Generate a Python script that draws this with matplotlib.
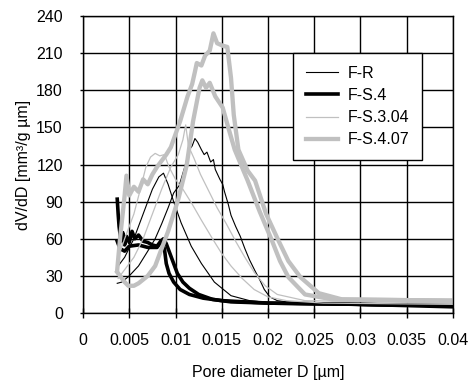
import matplotlib
matplotlib.use('Agg')
import matplotlib.pyplot as plt

plt.rcParams['font.family'] = ['Liberation Sans', 'DejaVu Sans']

# F-R, two runs
fr1_d = [0.0037, 0.0042, 0.005, 0.006, 0.007, 0.0078, 0.0085, 0.0092, 0.0098, 0.0104,
         0.011, 0.0115, 0.0118, 0.0121, 0.0124, 0.0128, 0.0131, 0.0134, 0.0138, 0.0141,
         0.0143, 0.0148, 0.0151, 0.0153, 0.0157, 0.016, 0.0165, 0.017, 0.0175, 0.018,
         0.0186, 0.0191, 0.0196, 0.0202, 0.021, 0.023, 0.03, 0.04]
fr1_v = [24, 25, 30, 38, 50, 60, 72, 85, 97, 103,
         118, 132, 135, 141, 138, 132, 128, 130, 122, 124,
         116, 108, 104, 98, 88, 79, 70, 62, 52, 43,
         34, 27, 19, 13, 10, 8, 6, 5]
fr2_d = [0.0037, 0.0045, 0.0055, 0.0065, 0.0075, 0.0082, 0.0087, 0.0092, 0.0098, 0.0106,
         0.0117, 0.0128, 0.0142, 0.016, 0.018, 0.022, 0.03, 0.04]
fr2_v = [37, 45, 60, 80, 100, 110, 113, 104, 90, 73,
         54, 40, 25, 14, 10, 7, 6, 5]

# F-S.4, two runs
fs4a_d = [0.0037, 0.0038, 0.0039, 0.0041, 0.0043, 0.0045, 0.0047, 0.005, 0.0053, 0.0056,
          0.006, 0.0065, 0.007, 0.0075, 0.008, 0.0084, 0.0087, 0.009, 0.0094, 0.0098,
          0.0102, 0.0108, 0.0115, 0.0125, 0.014, 0.016, 0.02, 0.03, 0.04]
fs4a_v = [92, 80, 70, 58, 65, 55, 62, 57, 66, 60,
          63, 58, 57, 55, 54, 58, 60, 56, 48, 40,
          32, 25, 20, 15, 11, 9, 8, 7, 6]
fs4b_d = [0.0037, 0.004, 0.0045, 0.005, 0.006, 0.007, 0.008, 0.0085, 0.0088, 0.009,
          0.0093, 0.0098, 0.0105, 0.0115, 0.013, 0.015, 0.02, 0.03, 0.04]
fs4b_v = [58, 52, 50, 54, 55, 53, 53, 58, 52, 40,
          32, 25, 19, 15, 12, 10, 8, 7, 5]

# F-S.3.04, two runs
fs304a_d = [0.0038, 0.0045, 0.0055, 0.0062, 0.0068, 0.0073, 0.0078, 0.0083, 0.0088, 0.0093,
            0.01, 0.0108, 0.0118, 0.0128, 0.014, 0.015, 0.016, 0.0172, 0.0185, 0.02,
            0.022, 0.026, 0.04]
fs304a_v = [45, 60, 80, 100, 118, 126, 129, 127, 128, 118,
            108, 100, 88, 75, 60, 48, 38, 28, 19, 13,
            10, 8, 7]
fs304b_d = [0.0038, 0.0045, 0.0055, 0.0065, 0.0075, 0.0085, 0.0095, 0.0103, 0.0108, 0.0111,
            0.0114, 0.012, 0.0127, 0.0135, 0.0145, 0.0155, 0.0165, 0.0175, 0.0185, 0.0197,
            0.021, 0.024, 0.04]
fs304b_v = [28, 35, 45, 60, 80, 100, 118, 128, 140, 152,
            135, 125, 112, 100, 85, 72, 58, 45, 33, 22,
            15, 10, 8]

# F-S.4.07, two runs
fs407a_d = [0.0037, 0.004, 0.0045, 0.0047, 0.005, 0.0055, 0.006, 0.0065, 0.007, 0.0075,
            0.008, 0.009, 0.0095, 0.0105, 0.0113, 0.0118, 0.0121, 0.0123, 0.0128, 0.0132,
            0.0137, 0.0141, 0.0145, 0.0151, 0.0156, 0.016, 0.0163, 0.0168, 0.0178, 0.0186,
            0.0198, 0.0211, 0.0222, 0.0235, 0.0255, 0.028, 0.04]
fs407a_v = [35, 60, 95, 111, 95, 102, 98, 108, 104, 112,
            118, 128, 134, 155, 175, 185, 195, 202, 200, 208,
            212, 226, 218, 216, 215, 190, 160, 132, 115, 107,
            80, 59, 42, 29, 16, 11, 10]
fs407b_d = [0.0037, 0.0045, 0.0049, 0.0055, 0.006, 0.007, 0.0078, 0.0085, 0.0092, 0.0103,
            0.0112, 0.0119, 0.0126, 0.0129, 0.0133, 0.0137, 0.0143, 0.0151, 0.0157, 0.0164,
            0.0178, 0.0191, 0.0204, 0.0213, 0.0222, 0.024, 0.027, 0.04]
fs407b_v = [33, 25, 22, 22, 24, 30, 38, 52, 66, 92,
            119, 155, 182, 188, 182, 186, 175, 166, 150, 132,
            107, 82, 59, 42, 29, 15, 11, 10]

grey = '#c0c0c0'

fig = plt.figure(figsize=(4.73, 3.82), dpi=100)
ax = fig.add_axes([0.1755, 0.1806, 0.7822, 0.7775])

l1, = ax.plot(fr1_d, fr1_v, color='black', lw=0.8)
ax.plot(fr2_d, fr2_v, color='black', lw=0.8)
l2, = ax.plot(fs4a_d, fs4a_v, color='black', lw=2.6)
ax.plot(fs4b_d, fs4b_v, color='black', lw=2.6)
l3, = ax.plot(fs304a_d, fs304a_v, color=grey, lw=0.9)
ax.plot(fs304b_d, fs304b_v, color=grey, lw=0.9)
l4, = ax.plot(fs407a_d, fs407a_v, color=grey, lw=3.1)
ax.plot(fs407b_d, fs407b_v, color=grey, lw=3.1)

ax.set_xlim(0, 0.04)
ax.set_ylim(0, 240)
xt = [0, 0.005, 0.01, 0.015, 0.02, 0.025, 0.03, 0.035, 0.04]
ax.set_xticks(xt)
ax.set_xticklabels(['0', '0.005', '0.01', '0.015', '0.02', '0.025', '0.03', '0.035', '0.04'])
ax.set_yticks(range(0, 241, 30))
ax.tick_params(axis='x', direction='inout', length=7, width=1, labelsize=11.5, pad=11)
ax.tick_params(axis='y', direction='out', length=2.5, width=1, labelsize=11.5, pad=12)
ax.grid(True, color='black', lw=1)
ax.set_axisbelow(True)
for s in ax.spines.values():
    s.set_linewidth(1)

ax.set_xlabel('Pore diameter D [µm]', fontsize=11.5, labelpad=12)
ax.set_ylabel('dV/dD [mm³/g µm]', fontsize=11.5, labelpad=4)

leg = ax.legend([l1, l2, l3, l4], ['F-R', 'F-S.4', 'F-S.3.04', 'F-S.4.07'],
                loc='upper left', bbox_to_anchor=(0.5676, 0.8754), fontsize=11.5,
                fancybox=False, framealpha=1, edgecolor='black', handlelength=2.0,
                labelspacing=0.45, borderpad=0.8, handletextpad=0.6, borderaxespad=0)
leg.get_frame().set_linewidth(1)

fig.savefig('out.png', dpi=100)
